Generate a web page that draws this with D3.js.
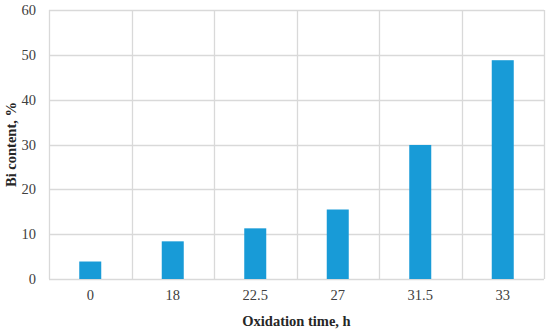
<!DOCTYPE html>
<html><head><meta charset="utf-8">
<script src="https://cdn.jsdelivr.net/npm/d3@7"></script>
<style>body{margin:0;background:#fff}svg{display:block}</style>
</head><body><svg id="c" width="550" height="332"></svg>
<script>
const categories = ["0","18","22.5","27","31.5","33"];
const values = [3.9, 8.4, 11.3, 15.5, 29.9, 48.8];
const yTicks = [0,10,20,30,40,50,60];

const svg = d3.select("#c");
const m = {l:49, r:6, t:10, b:53};
const W = 550, H = 332;
const x = d3.scaleBand().domain(categories).range([m.l, W-m.r]);
const y = d3.scaleLinear().domain([0,60]).range([H-m.b, m.t]);
const font = "'Liberation Serif', 'DejaVu Serif', serif";
const grid = "#d9d9d9";

svg.append("g").selectAll("line").data(yTicks).join("line")
  .attr("x1", m.l).attr("x2", W-m.r)
  .attr("y1", d=>Math.round(y(d))+0.5).attr("y2", d=>Math.round(y(d))+0.5)
  .attr("stroke", grid).attr("stroke-width",1.3);
const edges = categories.map(c=>x(c)).concat([W-m.r]);
svg.append("g").selectAll("line").data(edges).join("line")
  .attr("x1", d=>Math.round(d)+0.5).attr("x2", d=>Math.round(d)+0.5)
  .attr("y1", m.t).attr("y2", H-m.b)
  .attr("stroke", grid).attr("stroke-width",1.3);

const bw = 22;
svg.append("g").selectAll("rect").data(values).join("rect")
  .attr("x", (d,i)=>x(categories[i]) + x.bandwidth()/2 - bw/2)
  .attr("y", d=>y(d)).attr("width", bw).attr("height", d=>y(0)-y(d))
  .attr("fill", "#189bd7");

const ya = svg.append("g").attr("transform",`translate(${m.l},0)`)
  .call(d3.axisLeft(y).tickValues(yTicks).tickSize(0).tickPadding(13));
ya.select(".domain").remove();
ya.selectAll("text").attr("font-family", font).attr("font-size",14.5).attr("fill","#404040");

const xa = svg.append("g").attr("transform",`translate(0,${H-m.b})`)
  .call(d3.axisBottom(x).tickSize(0).tickPadding(11));
xa.select(".domain").remove();
xa.selectAll("text").attr("font-family", font).attr("font-size",14.5).attr("fill","#404040");

svg.append("text").attr("x", (m.l + W-m.r)/2).attr("y", 326)
  .attr("text-anchor","middle").attr("font-family",font).attr("font-weight","bold")
  .attr("font-size",14.5).attr("fill","#262626").text("Oxidation time, h");
svg.append("text").attr("transform",`translate(16,${(m.t+H-m.b)/2}) rotate(-90)`)
  .attr("text-anchor","middle").attr("font-family",font).attr("font-weight","bold")
  .attr("font-size",14.5).attr("fill","#262626").text("Bi content, %");
</script></body></html>
